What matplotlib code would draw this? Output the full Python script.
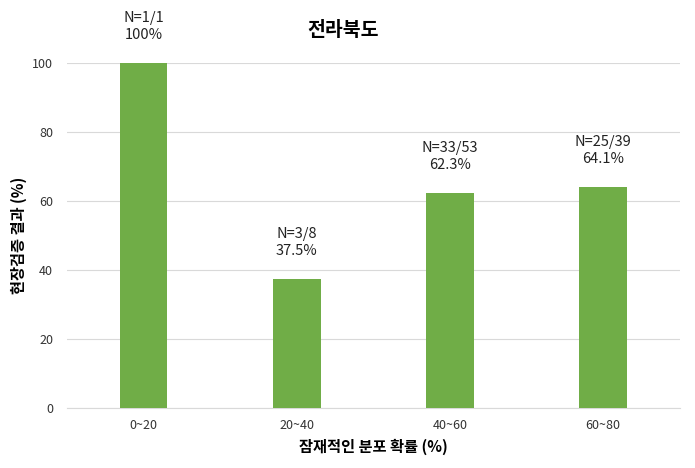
import numpy as np
import matplotlib
matplotlib.use('Agg')
import matplotlib.pyplot as plt

plt.rcParams['font.family'] = ['Noto Sans CJK KR', 'DejaVu Sans']

categories = ['0~20', '20~40', '40~60', '60~80']
values = [100, 37.5, 62.3, 64.1]
counts = ['N=1/1', 'N=3/8', 'N=33/53', 'N=25/39']
pct_labels = ['100%', '37.5%', '62.3%', '64.1%']

fig = plt.figure(figsize=(6.95, 4.68), dpi=100)
ax = fig.add_axes([0.0964, 0.1282, 0.8816, 0.7372])

x = np.arange(len(categories))
ax.bar(x, values, width=0.31, color='#70AD47', zorder=3)

for xi, v, n, p in zip(x, values, counts, pct_labels):
    ax.annotate(n + '\n' + p, (xi, v), xytext=(0, 15), textcoords='offset points',
                ha='center', va='bottom', fontsize=10.5, linespacing=1.25,
                color='#222222', annotation_clip=False)

ax.set_xlim(-0.5, len(categories) - 0.5)
ax.set_ylim(0, 100)
ax.set_yticks([0, 20, 40, 60, 80, 100])
ax.set_xticks(x)
ax.set_xticklabels(categories)
ax.tick_params(axis='both', length=0, labelsize=9, colors='#333333')
ax.tick_params(axis='y', pad=10)
ax.tick_params(axis='x', pad=8)
ax.grid(axis='y', color='#d9d9d9', linewidth=0.8, zorder=0)
for s in ['top', 'right', 'left']:
    ax.spines[s].set_visible(False)
ax.spines['bottom'].set_color('#d9d9d9')

ax.set_xlabel('잠재적인 분포 확률 (%)', fontsize=11, fontweight='bold', labelpad=5)
ax.set_ylabel('현장검증 결과 (%)', fontsize=11, fontweight='bold', labelpad=4)
fig.text(0.493, 0.935, '전라북도', ha='center', va='center', fontsize=14, fontweight='bold')

fig.savefig('out.png', dpi=100)
